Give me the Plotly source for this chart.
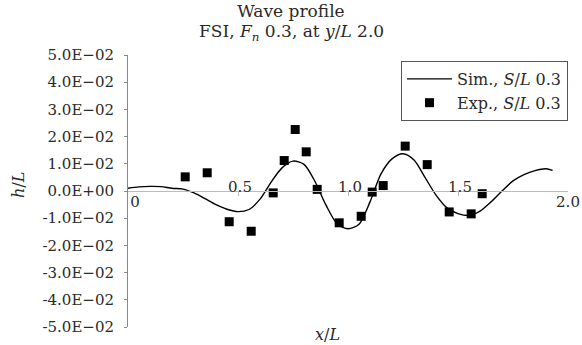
import plotly.graph_objects as go

# ---- data ----
sim_x = [0.00, 0.05, 0.10, 0.15, 0.20, 0.25, 0.30, 0.35, 0.40, 0.45, 0.50, 0.55,
         0.60, 0.65, 0.70, 0.75, 0.80, 0.85, 0.90, 0.95, 1.00, 1.05, 1.10, 1.15,
         1.20, 1.25, 1.30, 1.35, 1.40, 1.45, 1.50, 1.55, 1.60, 1.65, 1.70, 1.75,
         1.80, 1.85, 1.90, 1.93]
sim_h = [0.0010, 0.0015, 0.0017, 0.0016, 0.0010, 0.0007, -0.0007, -0.0028, -0.0050,
         -0.0067, -0.0076, -0.0068, -0.0030, 0.0032, 0.0085, 0.0110, 0.0098, 0.0035,
         -0.0052, -0.0120, -0.0139, -0.0122, -0.0040, 0.0063, 0.0118, 0.0137, 0.0114,
         0.0050, -0.0015, -0.0062, -0.0083, -0.0090, -0.0074, -0.0040, 0.0000, 0.0037,
         0.0060, 0.0075, 0.0082, 0.0076]

exp_x = [0.26, 0.36, 0.46, 0.56, 0.66, 0.71, 0.76, 0.81, 0.86, 0.96, 1.06, 1.11,
         1.16, 1.26, 1.36, 1.46, 1.56, 1.61]
exp_h = [0.0052, 0.0067, -0.0113, -0.0148, -0.0007, 0.0112, 0.0226, 0.0144, 0.0006,
         -0.0117, -0.0093, -0.0004, 0.0020, 0.0165, 0.0097, -0.0077, -0.0084, -0.0010]

y_tickvals = [0.05, 0.04, 0.03, 0.02, 0.01, 0.0, -0.01, -0.02, -0.03, -0.04, -0.05]
y_ticktext = ["5.0E\u221202", "4.0E\u221202", "3.0E\u221202", "2.0E\u221202", "1.0E\u221202",
              "0.0E+00", "-1.0E\u221202", "-2.0E\u221202", "-3.0E\u221202", "-4.0E\u221202",
              "-5.0E\u221202"]
x_top_vals = [0.5, 1.0, 1.5]
x_top_text = ["0.5", "1.0", "1.5"]
x_end_vals = [2.0]
x_end_text = ["2.0"]
x_zero_vals = [0.0]
x_zero_text = ["0"]

FONT = "DejaVu Serif"
TXT = "#2a2a2a"
TICK = dict(family=FONT, size=15, color=TXT)

fig = go.Figure()
fig.add_trace(go.Scatter(
    x=sim_x, y=sim_h, mode="lines", name="Sim., <i>S</i>/<i>L</i> 0.3",
    line=dict(color="black", width=1.4, shape="spline", smoothing=0.8),
))
fig.add_trace(go.Scatter(
    x=exp_x, y=exp_h, mode="markers", name="Exp., <i>S</i>/<i>L</i> 0.3",
    marker=dict(symbol="square", size=9, color="black"),
))
# invisible traces to activate the overlay label axes
for ax in ["x2", "x3", "x4"]:
    fig.add_trace(go.Scatter(x=[0, 2], y=[0, 0], xaxis=ax, mode="none",
                             showlegend=False, hoverinfo="skip"))

fig.update_layout(
    width=582, height=345,
    margin=dict(l=128, r=14, t=55, b=18, autoexpand=False),
    paper_bgcolor="white", plot_bgcolor="white",
    font=dict(family=FONT, size=15, color=TXT),
    title=dict(
        text="Wave profile",
        x=0.5, xanchor="center", xref="container",
        y=1 - 11 / 345, yanchor="middle", yref="container",
        font=dict(family=FONT, size=17, color=TXT),
    ),
    showlegend=True,
    legend=dict(
        x=1.0, xanchor="right", y=0.978, yanchor="top",
        bordercolor="#555555", borderwidth=1, bgcolor="white",
        font=dict(family=FONT, size=16, color=TXT),
        tracegroupgap=0, itemwidth=45,
    ),
    xaxis=dict(
        range=[0, 2], anchor="free", position=0.5, side="top",
        showline=True, linecolor="#bbbbbb", linewidth=1,
        tickvals=x_top_vals, showticklabels=False,
        ticks="inside", ticklen=4, tickcolor="#bbbbbb",
        showgrid=False, zeroline=False, automargin=False,
    ),
    xaxis2=dict(
        range=[0, 2], overlaying="x", anchor="free", position=0.487, side="top",
        showline=False, tickvals=x_top_vals, ticktext=x_top_text, ticks="",
        ticklabelshift=2, automargin=False,
        showgrid=False, zeroline=False, tickfont=TICK,
    ),
    xaxis3=dict(
        range=[0, 2], overlaying="x", anchor="free", position=0.5, side="bottom",
        showline=False, tickvals=x_end_vals, ticktext=x_end_text, ticks="",
        ticklabeloverflow="allow", automargin=False,
        showgrid=False, zeroline=False, tickfont=TICK,
    ),
    xaxis4=dict(
        range=[0, 2], overlaying="x", anchor="free", position=0.5, side="bottom",
        showline=False, tickvals=x_zero_vals, ticktext=x_zero_text, ticks="",
        ticklabelshift=7, ticklabeloverflow="allow", automargin=False,
        showgrid=False, zeroline=False, tickfont=TICK,
    ),
    yaxis=dict(
        range=[-0.05, 0.05],
        showline=True, linecolor="#888888", linewidth=1,
        tickvals=y_tickvals, ticktext=y_ticktext,
        ticks="outside", ticklen=3, tickcolor="#888888",
        ticklabelstandoff=7, automargin=False,
        showgrid=False, zeroline=False, tickfont=TICK,
    ),
    annotations=[
        dict(text="FSI, <i>F</i><sub><i>n</i></sub> 0.3, at <i>y</i>/<i>L</i> 2.0",
             xref="paper", yref="paper", x=(291 - 128) / 440, y=(327 - 32) / 272,
             xanchor="center", yanchor="middle", showarrow=False,
             font=dict(family=FONT, size=17, color=TXT)),
        dict(text="<i>h</i>/<i>L</i>", xref="paper", yref="paper",
             x=(18 - 128) / 440, y=(327 - 185) / 272,
             xanchor="center", yanchor="middle",
             textangle=-90, showarrow=False, font=dict(family=FONT, size=16, color=TXT)),
        dict(text="<i>x</i>/<i>L</i>", xref="paper", yref="paper",
             x=(327 - 128) / 440, y=(327 - 334) / 272,
             xanchor="center", yanchor="middle",
             showarrow=False, font=dict(family=FONT, size=16, color=TXT)),
    ],
)

fig.write_html("out.html")
